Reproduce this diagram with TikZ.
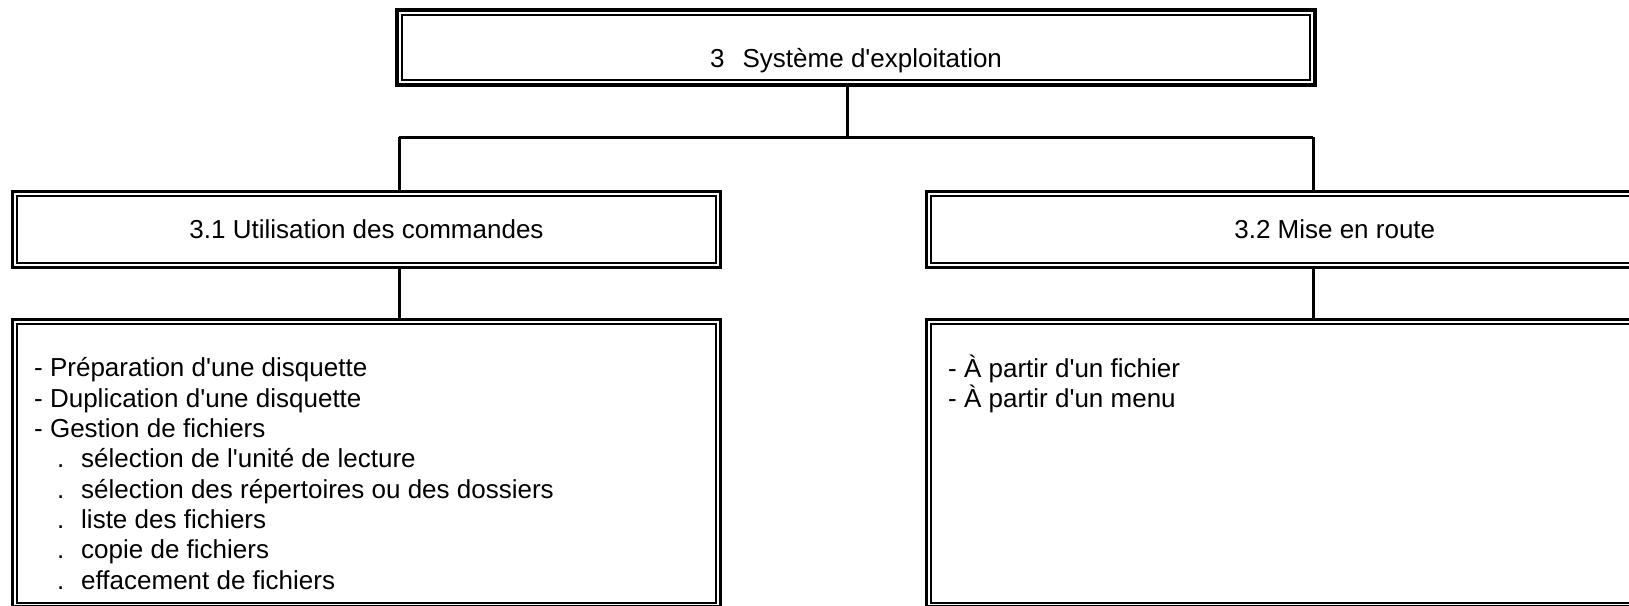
\documentclass[tikz,border=0pt]{standalone}
\usepackage{fontspec}
\setmainfont{Liberation Sans}[Ligatures=TeXOff]
\usetikzlibrary{positioning}

\tikzset{
  framebox/.style={draw, line width=3.3pt, inner sep=0pt, outer sep=0pt, anchor=north west},
  innerline/.style={line width=2pt},
  link/.style={line width=3pt},
  boxtext/.style={inner sep=0pt, anchor=base},
  listtext/.style={inner sep=0pt, anchor=base west, align=left},
}

\begin{document}
\begin{tikzpicture}[x=1pt, y=-1pt, font=\fontsize{26}{30.3}\selectfont]

    \useasboundingbox (0,0) rectangle (1629,605);
    \clip (0,0) rectangle (1629,605);

    % frames
    \node[framebox, minimum width=918pt, minimum height=75pt] (sys) at (397,10) {};
    \node[framebox, minimum width=708pt, minimum height=76pt] (cmd) at (12.5,191.5) {};
    \node[framebox, minimum width=816.5pt, minimum height=76pt] (route) at (926.5,191.5) {};
    \node[framebox, minimum width=708pt, minimum height=287.6pt] (cmdlist) at (12.5,319.5) {};
    \node[framebox, minimum width=816.5pt, minimum height=287.6pt] (routelist) at (926.5,319.5) {};

    \foreach \b in {sys,cmd,route,cmdlist,routelist}
      \draw[innerline] ([shift={(4.6pt,-4.6pt)}]\b.north west) rectangle ([shift={(-4.6pt,4.6pt)}]\b.south east);

    % texts
    \node[boxtext] (systext) at (856,67) {3\hspace{0.7em}Système d'exploitation};
    \node[boxtext] (cmdtext) at (366.5,238) {3.1 Utilisation des commandes};
    \node[boxtext] (routetext) at (1334.75,238) {3.2 Mise en route};

    % base = last line
    \node[listtext] (cmditems) at (34,589) {- Préparation d'une disquette\\
      - Duplication d'une disquette\\
      - Gestion de fichiers\\
      \hspace*{23pt}.\hspace*{16.8pt}sélection de l'unité de lecture\\
      \hspace*{23pt}.\hspace*{16.8pt}sélection des répertoires ou des dossiers\\
      \hspace*{23pt}.\hspace*{16.8pt}liste des fichiers\\
      \hspace*{23pt}.\hspace*{16.8pt}copie de fichiers\\
      \hspace*{23pt}.\hspace*{16.8pt}effacement de fichiers};
    \node[listtext] (routeitems) at (948,407.3) {- À partir d'un fichier\\
      - À partir d'un menu};

    % links
    \coordinate (split) at (847.5,137);
    \coordinate (leftjoin) at (399,137);
    \coordinate (rightjoin) at (1313,137);

    \draw[link] (sys.south -| split) -- (split);
    \draw[link] (leftjoin) -- (rightjoin);
    \draw[link] (leftjoin) -- (leftjoin |- cmd.north);
    \draw[link] (rightjoin) -- (rightjoin |- route.north);
    \draw[link] (cmd.south -| leftjoin) -- (cmdlist.north -| leftjoin);
    \draw[link] (route.south -| rightjoin) -- (routelist.north -| rightjoin);

\end{tikzpicture}
\end{document}
